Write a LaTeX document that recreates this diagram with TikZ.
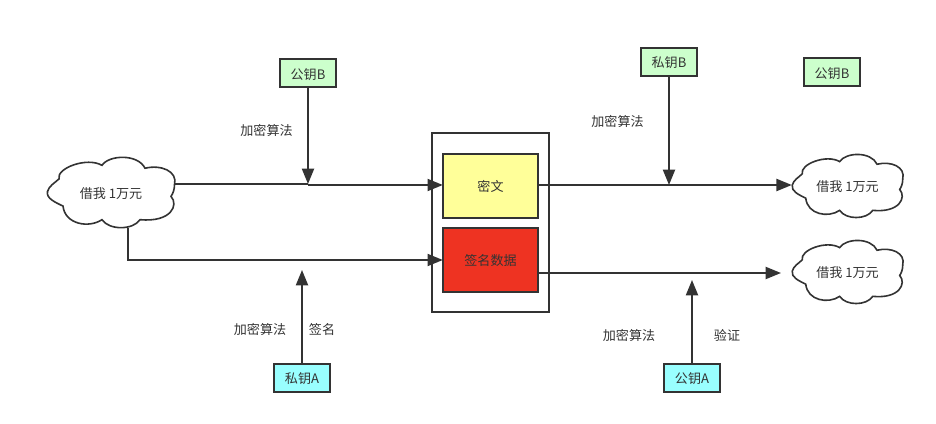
\documentclass[tikz,border=0pt]{standalone}
\usepackage{fontspec}
\setmainfont{Noto Sans CJK SC}
\usetikzlibrary{arrows.meta}

\definecolor{inkgray}{HTML}{333333}
\definecolor{keygreen}{HTML}{CCFFCC}
\definecolor{keycyan}{HTML}{99FFFF}
\definecolor{cipheryellow}{HTML}{FFFF99}
\definecolor{signred}{HTML}{EE3322}
\tikzset{
    basetext/.style={inner sep=0pt, outer sep=0pt, text=inkgray, text height=9.7pt, text depth=1pt, font=\fontsize{9.8}{11}\selectfont},
    keybox/.style={basetext, draw=inkgray, line width=1.5pt, minimum width=42pt, minimum height=21pt},
    databox/.style={keybox, minimum width=71.5pt, minimum height=48pt},
    flow/.style={draw=inkgray, line width=1.5pt, -{Triangle[length=11.5pt, width=9pt]}},
    plainflow/.style={draw=inkgray, line width=1.5pt}
}

% Cloud with its text: name, centre, size factors
\newcommand{\loancloud}[4]{
    \begin{scope}[shift={(#2)}, xscale=#3, yscale=#4]
        \draw[draw=inkgray, line width=1.2pt, fill=white] (-63.5,-1)
            .. controls (-62,-7) and (-56,-10) .. (-52,-14)
            .. controls (-55,-25) and (-24,-37) .. (-9,-28)
            .. controls (-2,-39) and (27,-40) .. (34,-25)
            .. controls (50,-29) and (67,-22) .. (63.5,-8)
            .. controls (63.5,-3) and (62,1) .. (60,4)
            .. controls (68,13) and (60,31) .. (29,28)
            .. controls (22,39) and (-2,39) .. (-9,28)
            .. controls (-22,37) and (-46,33) .. (-48,14)
            .. controls (-56,10) and (-65,6) .. (-63.5,-1) -- cycle;
    \end{scope}
    \node[basetext, minimum width=#3*96pt, minimum height=54pt] (#1) at (#2) {借我 1万元};
}

\begin{document}
\begin{tikzpicture}[x=0.75pt, y=-0.75pt]
    \useasboundingbox (0,0) rectangle (936,424);

    % Outer frame and data boxes
    \node[keybox, minimum width=87.75pt, minimum height=134.25pt] (frame) at (490.5,222.5) {};
    \node[databox, fill=cipheryellow] (cipher) at (490.5,186) {密文};
    \node[databox, fill=signred] (sign) at (490.5,260) {签名数据};

    % Clouds
    \loancloud{cloudL}{111,192.5}{1}{0.97}
    \loancloud{cloudRa}{847.5,186}{0.87}{0.87}
    \loancloud{cloudRb}{847.5,272}{0.87}{0.87}

    % Keys
    \node[keybox, fill=keygreen] (pubBa) at (308,73.5) {公钥B};
    \node[keybox, fill=keygreen] (privB) at (669,62) {私钥B};
    \node[keybox, fill=keygreen] (pubBb) at (832,72.5) {公钥B};
    \node[keybox, fill=keycyan] (privA) at (302,378) {私钥A};
    \node[keybox, fill=keycyan] (pubA) at (692,378) {公钥A};

    % Labels
    \node[basetext] (encTL) at (266.5,130) {加密算法};
    \node[basetext] (encTR) at (617.5,121) {加密算法};
    \node[basetext] (encBL) at (260,329) {加密算法};
    \node[basetext] (signL) at (322,329) {签名};
    \node[basetext] (encBR) at (629,335) {加密算法};
    \node[basetext] (checkL) at (727,335) {验证};

    % Free ends and bends
    \coordinate (joinB) at (308,184);
    \coordinate (joinBb) at (308,185);
    \coordinate (joinC) at (669,185);
    \coordinate (turnA) at (128,260);
    \coordinate (hitA) at (302,270);
    \coordinate (hitB) at (692,280);
    \coordinate (signEnd) at (781,273);

    % Upper flow
    \draw[plainflow] (cloudL.east |- joinB) -- (joinB);
    \draw[flow] (joinBb) -- (cipher.west |- joinBb);
    \draw[flow] (cipher.east |- joinC) -- (cloudRa.west |- joinC);
    \draw[flow] (pubBa) -- (joinB);
    \draw[flow] (privB) -- (joinC);

    % Lower flow
    \draw[flow] (turnA |- cloudL.south) -- (turnA) -- (sign.west);
    \draw[flow] (sign.east |- signEnd) -- (signEnd);
    \draw[flow] (privA) -- (hitA);
    \draw[flow] (pubA) -- (hitB);

\end{tikzpicture}
\end{document}
